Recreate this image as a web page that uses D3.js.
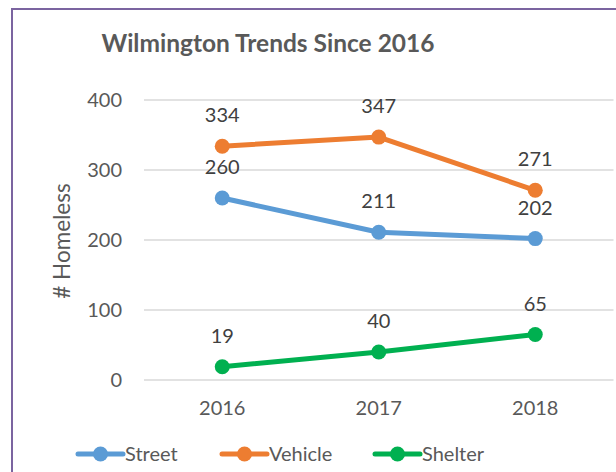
<!DOCTYPE html>
<html>
<head>
<meta charset="utf-8">
<script src="https://cdn.jsdelivr.net/npm/d3@7"></script>
<style>
  body { margin: 0; background: #fff; }
  svg { display: block; font-family: "Lato", "Open Sans", sans-serif; }
</style>
</head>
<body>
<svg width="616" height="472"></svg>
<script>
// chart data
const years = ["2016", "2017", "2018"];
const street = [260, 211, 202];
const vehicle = [334, 347, 271];
const shelter = [19, 40, 65];
const yTicks = [0, 100, 200, 300, 400];

const series = [
  { name: "Street", values: street, color: "#5b9bd5" },
  { name: "Vehicle", values: vehicle, color: "#ed7d31" },
  { name: "Shelter", values: shelter, color: "#00b050" }
];

const svg = d3.select("svg");

// outer chart border (cropped on right/bottom)
svg.append("rect")
  .attr("x", 12).attr("y", 9)
  .attr("width", 640).attr("height", 500)
  .attr("fill", "none")
  .attr("stroke", "#7b64a0")
  .attr("stroke-width", 2);

const x = d3.scaleBand().domain(years).range([144, 613.5]);
const y = d3.scaleLinear().domain([0, 400]).range([380, 100]);

// title
svg.append("text")
  .attr("x", 268).attr("y", 52)
  .attr("text-anchor", "middle")
  .attr("font-size", 24.5)
  .attr("font-weight", "bold")
  .attr("fill", "#595959")
  .text("Wilmington Trends Since 2016");

// gridlines
svg.append("g")
  .selectAll("line")
  .data(yTicks)
  .join("line")
  .attr("x1", 144).attr("x2", 613.5)
  .attr("y1", d => y(d)).attr("y2", d => y(d))
  .attr("stroke", "#d9d9d9")
  .attr("stroke-width", 1.5);

// y axis labels
const yAxis = d3.axisLeft(y).tickValues(yTicks).tickSize(0).tickPadding(0);
svg.append("g")
  .attr("transform", "translate(122,0)")
  .call(yAxis)
  .call(g => g.select(".domain").remove())
  .call(g => g.selectAll("text")
    .attr("font-size", 20)
    .attr("font-family", "Lato, sans-serif")
    .attr("fill", "#595959"));

// x axis labels
const xAxis = d3.axisBottom(x).tickSize(0).tickPadding(0);
svg.append("g")
  .attr("transform", "translate(0,401)")
  .call(xAxis)
  .call(g => g.select(".domain").remove())
  .call(g => g.selectAll("text")
    .attr("font-size", 20)
    .attr("font-family", "Lato, sans-serif")
    .attr("fill", "#595959"));

// y axis title
svg.append("text")
  .attr("transform", "translate(70,241) rotate(-90)")
  .attr("text-anchor", "middle")
  .attr("font-size", 22.5)
  .attr("fill", "#595959")
  .text("# Homeless");

const line = d3.line()
  .x((d, i) => x(years[i]) + x.bandwidth() / 2)
  .y(d => y(d));

series.forEach(s => {
  const g = svg.append("g");
  g.append("path")
    .attr("d", line(s.values))
    .attr("fill", "none")
    .attr("stroke", s.color)
    .attr("stroke-width", 5)
    .attr("stroke-linejoin", "round")
    .attr("stroke-linecap", "round");
  g.selectAll("circle")
    .data(s.values)
    .join("circle")
    .attr("cx", (d, i) => x(years[i]) + x.bandwidth() / 2)
    .attr("cy", d => y(d))
    .attr("r", 7.5)
    .attr("fill", s.color);
  g.selectAll("text")
    .data(s.values)
    .join("text")
    .attr("x", (d, i) => x(years[i]) + x.bandwidth() / 2)
    .attr("y", d => y(d) - 24)
    .attr("text-anchor", "middle")
    .attr("font-size", 20)
    .attr("fill", "#404040")
    .text(d => d);
});

// legend
const legendX = [78, 222, 375];
const lg = svg.append("g");
series.forEach((s, i) => {
  const gx = legendX[i];
  lg.append("line")
    .attr("x1", gx).attr("x2", gx + 45)
    .attr("y1", 454).attr("y2", 454)
    .attr("stroke", s.color)
    .attr("stroke-width", 5)
    .attr("stroke-linecap", "round");
  lg.append("circle")
    .attr("cx", gx + 22.5).attr("cy", 454)
    .attr("r", 7.5)
    .attr("fill", s.color);
  lg.append("text")
    .attr("x", gx + 47).attr("y", 461)
    .attr("font-size", 20)
    .attr("fill", "#595959")
    .text(s.name);
});
</script>
</body>
</html>
